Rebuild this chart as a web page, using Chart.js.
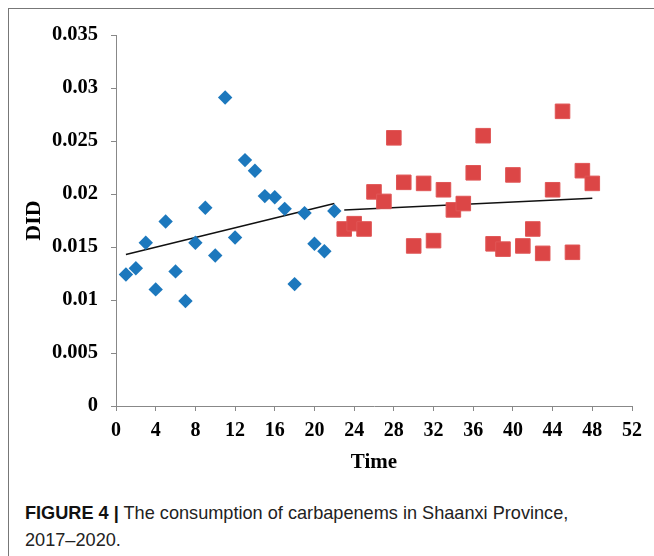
<!DOCTYPE html>
<html>
<head>
<meta charset="utf-8">
<script src="https://cdn.jsdelivr.net/npm/chart.js@4"></script>
<style>
  body { margin: 0; background: #fff; width: 654px; height: 556px; overflow: hidden; position: relative; }
  #frame { position: absolute; left: 8px; top: 8px; width: 660px; height: 560px; border-top: 1px solid #777; border-left: 1px solid #777; }
  #wrap { position: absolute; left: 0; top: 0; width: 654px; height: 480px; }
  #caption { position: absolute; left: 25px; top: 499px; font-family: "Liberation Sans", Arial, sans-serif; font-size: 19px; line-height: 27px; color: #222;
             white-space: nowrap; transform: scaleX(0.955); transform-origin: 0 0; }
  #caption b { color: #111; }
</style>
</head>
<body>
<div id="frame"></div>
<div id="wrap"><canvas id="didChart" width="654" height="480"></canvas></div>
<div id="caption"><b>FIGURE 4 |</b> The consumption of carbapenems in Shaanxi Province,<br>2017–2020.</div>
<script>
// months 1-22 (blue diamonds) and 23-48 (red squares)
const timeA = [1, 2, 3, 4, 5, 6, 7, 8, 9, 10, 11, 12, 13, 14, 15, 16, 17, 18, 19, 20, 21, 22];
const didA = [0.0124, 0.0130, 0.0154, 0.0110, 0.0174, 0.0127, 0.0099, 0.0154, 0.0187, 0.0142, 0.0291, 0.0159,
              0.0232, 0.0222, 0.0198, 0.0197, 0.0186, 0.0115, 0.0182, 0.0153, 0.0146, 0.0184];
const timeB = [23, 24, 25, 26, 27, 28, 29, 30, 31, 32, 33, 34, 35, 36, 37, 38, 39, 40, 41, 42, 43, 44, 45, 46, 47, 48];
const didB = [0.0167, 0.0172, 0.0167, 0.0202, 0.0193, 0.0253, 0.0211, 0.0151, 0.0210, 0.0156, 0.0204, 0.0185, 0.0191,
              0.0220, 0.0255, 0.0153, 0.0148, 0.0218, 0.0151, 0.0167, 0.0144, 0.0204, 0.0278, 0.0145, 0.0222, 0.0210];
// trend line end points
const trendAX = [1, 22];
const trendAY = [0.0143, 0.0191];
const trendBX = [23, 48];
const trendBY = [0.0185, 0.0196];

const pts = (xs, ys) => xs.map((x, i) => ({x: x, y: ys[i]}));

const serif = "'Liberation Serif', 'Times New Roman', serif";
const axisFont = {family: serif, size: 20, weight: 'bold'};
const noPad = function(scale) {
	scale.paddingTop = 0; scale.paddingBottom = 0; scale.paddingLeft = 0; scale.paddingRight = 0;
};

new Chart(document.getElementById('didChart'), {
	type: 'scatter',
	data: {
		datasets: [{
			data: pts(timeA, didA),
			pointStyle: 'rectRot',
			pointRadius: 7.2,
			backgroundColor: '#1c78bd',
			borderColor: '#1c78bd',
			borderWidth: 0
		}, {
			data: pts(timeB, didB),
			pointStyle: 'rect',
			pointRadius: 10.3,
			backgroundColor: '#dc4646',
			borderColor: '#e05656',
			borderWidth: 1
		}, {
			data: pts(trendAX, trendAY),
			showLine: true,
			pointRadius: 0,
			borderColor: '#111',
			borderWidth: 1.5
		}, {
			data: pts(trendBX, trendBY),
			showLine: true,
			pointRadius: 0,
			borderColor: '#111',
			borderWidth: 1.5
		}]
	},
	options: {
		responsive: false,
		animation: false,
		layout: {padding: {left: 21, top: 35, right: 22, bottom: 5}},
		plugins: {legend: {display: false}, tooltip: {enabled: false}},
		scales: {
			x: {
				type: 'linear',
				min: 0, max: 52,
				afterFit: function(scale) { scale.height = 69; noPad(scale); },
				border: {color: '#888', width: 1},
				grid: {drawOnChartArea: false, drawTicks: true, tickLength: 5, color: '#888'},
				ticks: {stepSize: 4, padding: 8, color: '#000', font: axisFont, maxRotation: 0},
				title: {display: true, text: 'Time', color: '#000', font: {family: serif, size: 21, weight: 'bold'}, padding: 0}
			},
			y: {
				min: 0, max: 0.035,
				afterFit: function(scale) { scale.width = 95; noPad(scale); },
				border: {color: '#888', width: 1},
				grid: {drawOnChartArea: false, drawTicks: true, tickLength: 5, color: '#888'},
				ticks: {stepSize: 0.005, padding: 13, color: '#000', font: {family: serif, size: 20.5, weight: 'bold'},
					callback: v => String(parseFloat(v.toFixed(3)))},
				title: {display: true, text: 'DID', color: '#000', font: {family: serif, size: 22, weight: 'bold'}, padding: 0}
			}
		}
	}
});
</script>
</body>
</html>
